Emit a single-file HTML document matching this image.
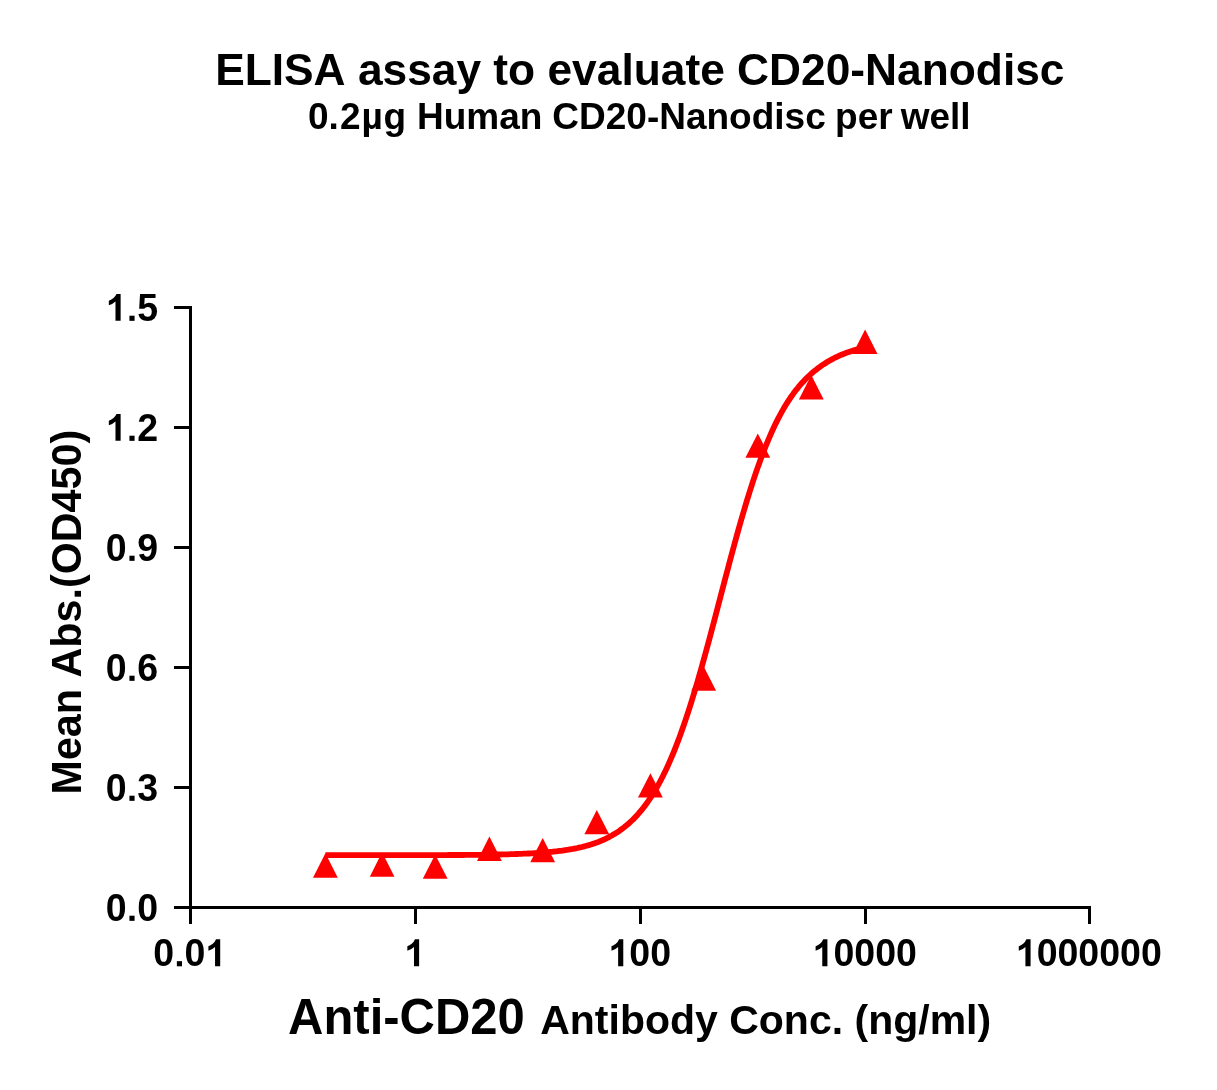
<!DOCTYPE html>
<html><head><meta charset="utf-8">
<style>
html,body{margin:0;padding:0;background:#fff;}
body{width:1217px;height:1090px;overflow:hidden;position:relative;}
svg{position:absolute;left:0;top:0;display:block;will-change:transform;}
text{font-kerning:none;font-family:"Liberation Sans",sans-serif;font-weight:bold;fill:#000;}
</style></head><body>
<svg width="1217" height="1090" viewBox="0 0 1217 1090">
<rect width="1217" height="1090" fill="#fff"/>
<!-- titles -->
<text id="t1" x="639.8" y="84.8" font-size="44.3" text-anchor="middle">ELISA assay to evaluate CD20-Nanodisc</text>
<text id="t2" y="129.3" font-size="37"><tspan x="307.9">0.</tspan><tspan x="340.1">2</tspan><tspan x="361.5">µ</tspan><tspan x="383.6">g</tspan><tspan x="417.0">Human</tspan><tspan x="552.3">CD20-Nanodisc</tspan><tspan x="835.1">per</tspan><tspan x="900.7">well</tspan></text>
<!-- axes -->
<g fill="#000" shape-rendering="crispEdges">
<rect x="189" y="306" width="3" height="618"/>
<rect x="174" y="906" width="917" height="3"/>
<rect x="174" y="306" width="16" height="3"/>
<rect x="174" y="426" width="16" height="3"/>
<rect x="174" y="546" width="16" height="3"/>
<rect x="174" y="666" width="16" height="3"/>
<rect x="174" y="786" width="16" height="3"/>
<rect x="414" y="906" width="3" height="18"/>
<rect x="639" y="906" width="3" height="18"/>
<rect x="864" y="906" width="3" height="18"/>
<rect x="1088" y="906" width="3" height="18"/>
</g>
<!-- y tick labels -->
<g fill="#000">
<path transform="translate(105.87,320.85) scale(0.018311,-0.018311)" d="M806 0H525V1059Q371 915 162 846V1101Q272 1137 401 1237.5T578 1472H806Z"/>
<path transform="translate(126.73,320.85) scale(0.018311,-0.018311)" d="M147 0H428V281H147Z"/>
<text transform="translate(137.14,320.85) scale(1,1.040)" font-size="37.50">5</text>
<path transform="translate(105.87,440.85) scale(0.018311,-0.018311)" d="M806 0H525V1059Q371 915 162 846V1101Q272 1137 401 1237.5T578 1472H806Z"/>
<path transform="translate(126.73,440.85) scale(0.018311,-0.018311)" d="M147 0H428V281H147Z"/>
<text transform="translate(137.14,440.85) scale(1,1.040)" font-size="37.50">2</text>
<text transform="translate(105.87,560.85) scale(1,1.040)" font-size="37.50">0</text>
<path transform="translate(126.73,560.85) scale(0.018311,-0.018311)" d="M147 0H428V281H147Z"/>
<text transform="translate(137.14,560.85) scale(1,1.040)" font-size="37.50">9</text>
<text transform="translate(105.87,680.85) scale(1,1.040)" font-size="37.50">0</text>
<path transform="translate(126.73,680.85) scale(0.018311,-0.018311)" d="M147 0H428V281H147Z"/>
<text transform="translate(137.14,680.85) scale(1,1.040)" font-size="37.50">6</text>
<text transform="translate(105.87,800.85) scale(1,1.040)" font-size="37.50">0</text>
<path transform="translate(126.73,800.85) scale(0.018311,-0.018311)" d="M147 0H428V281H147Z"/>
<text transform="translate(137.14,800.85) scale(1,1.040)" font-size="37.50">3</text>
<text transform="translate(105.87,920.85) scale(1,1.040)" font-size="37.50">0</text>
<path transform="translate(126.73,920.85) scale(0.018311,-0.018311)" d="M147 0H428V281H147Z"/>
<text transform="translate(137.14,920.85) scale(1,1.040)" font-size="37.50">0</text>
</g>
<!-- x tick labels -->
<g fill="#000">
<text transform="translate(153.31,966.30) scale(1,1.040)" font-size="37.50">0</text>
<path transform="translate(174.16,966.30) scale(0.018311,-0.018311)" d="M147 0H428V281H147Z"/>
<text transform="translate(184.58,966.30) scale(1,1.040)" font-size="37.50">0</text>
<path transform="translate(205.44,966.30) scale(0.018311,-0.018311)" d="M806 0H525V1059Q371 915 162 846V1101Q272 1137 401 1237.5T578 1472H806Z"/>
<path transform="translate(404.37,966.30) scale(0.018311,-0.018311)" d="M806 0H525V1059Q371 915 162 846V1101Q272 1137 401 1237.5T578 1472H806Z"/>
<path transform="translate(608.52,966.30) scale(0.018311,-0.018311)" d="M806 0H525V1059Q371 915 162 846V1101Q272 1137 401 1237.5T578 1472H806Z"/>
<text transform="translate(629.37,966.30) scale(1,1.040)" font-size="37.50">00</text>
<path transform="translate(812.66,966.30) scale(0.018311,-0.018311)" d="M806 0H525V1059Q371 915 162 846V1101Q272 1137 401 1237.5T578 1472H806Z"/>
<text transform="translate(833.52,966.30) scale(1,1.040)" font-size="37.50">0000</text>
<path transform="translate(1015.81,966.30) scale(0.018311,-0.018311)" d="M806 0H525V1059Q371 915 162 846V1101Q272 1137 401 1237.5T578 1472H806Z"/>
<text transform="translate(1036.66,966.30) scale(1,1.040)" font-size="37.50">000000</text>
</g>
<!-- axis titles -->
<text id="xa" transform="translate(288.0,1034.3) scale(1,1.035)" font-size="49">Anti-CD20</text>
<text id="xb" x="540.2" y="1034.3" font-size="41">Antibody Conc. (ng/ml)</text>
<text id="ya" transform="translate(81.4,794.5) rotate(-90) scale(1,1.025)" font-size="41.3">Mean Abs.(OD450)</text>
<!-- data -->
<path d="M325.4,855.2 L326.9,855.2 L328.4,855.2 L329.9,855.2 L331.4,855.2 L332.9,855.2 L334.4,855.2 L335.9,855.2 L337.4,855.2 L338.9,855.2 L340.4,855.2 L341.9,855.2 L343.4,855.2 L344.9,855.2 L346.4,855.2 L347.9,855.2 L349.4,855.2 L350.9,855.2 L352.4,855.2 L353.9,855.2 L355.4,855.2 L356.9,855.2 L358.4,855.2 L359.9,855.2 L361.4,855.2 L362.9,855.2 L364.4,855.2 L365.9,855.2 L367.4,855.2 L368.9,855.2 L370.4,855.2 L371.9,855.2 L373.4,855.2 L374.9,855.2 L376.4,855.2 L377.9,855.2 L379.4,855.2 L380.9,855.2 L382.4,855.2 L383.9,855.2 L385.4,855.2 L386.9,855.2 L388.4,855.2 L389.9,855.2 L391.4,855.2 L392.9,855.2 L394.4,855.2 L395.9,855.2 L397.4,855.2 L398.9,855.2 L400.4,855.2 L401.9,855.2 L403.4,855.2 L404.9,855.2 L406.4,855.2 L407.9,855.2 L409.4,855.2 L410.9,855.2 L412.4,855.1 L413.9,855.1 L415.4,855.1 L416.9,855.1 L418.4,855.1 L419.9,855.1 L421.4,855.1 L422.9,855.1 L424.4,855.1 L425.9,855.1 L427.4,855.1 L428.9,855.1 L430.4,855.1 L431.9,855.1 L433.4,855.1 L434.9,855.1 L436.4,855.1 L437.9,855.1 L439.4,855.1 L440.9,855.1 L442.4,855.1 L443.9,855.1 L445.4,855.1 L446.9,855.1 L448.4,855.0 L449.9,855.0 L451.4,855.0 L452.9,855.0 L454.4,855.0 L455.9,855.0 L457.4,855.0 L458.9,855.0 L460.4,855.0 L461.9,855.0 L463.4,855.0 L464.9,854.9 L466.4,854.9 L467.9,854.9 L469.4,854.9 L470.9,854.9 L472.4,854.9 L473.9,854.9 L475.4,854.9 L476.9,854.8 L478.4,854.8 L479.9,854.8 L481.4,854.8 L482.9,854.8 L484.4,854.7 L485.9,854.7 L487.4,854.7 L488.9,854.7 L490.4,854.7 L491.9,854.6 L493.4,854.6 L494.9,854.6 L496.4,854.5 L497.9,854.5 L499.4,854.5 L500.9,854.5 L502.4,854.4 L503.9,854.4 L505.4,854.3 L506.9,854.3 L508.4,854.3 L509.9,854.2 L511.4,854.2 L512.9,854.1 L514.4,854.1 L515.9,854.0 L517.4,854.0 L518.9,853.9 L520.4,853.9 L521.9,853.8 L523.4,853.7 L524.9,853.7 L526.4,853.6 L527.9,853.5 L529.4,853.5 L530.9,853.4 L532.4,853.3 L533.9,853.2 L535.4,853.1 L536.9,853.0 L538.4,852.9 L539.9,852.8 L541.4,852.7 L542.9,852.6 L544.4,852.5 L545.9,852.3 L547.4,852.2 L548.9,852.1 L550.4,851.9 L551.9,851.8 L553.4,851.6 L554.9,851.5 L556.4,851.3 L557.9,851.1 L559.4,850.9 L560.9,850.8 L562.4,850.6 L563.9,850.3 L565.4,850.1 L566.9,849.9 L568.4,849.7 L569.9,849.4 L571.4,849.1 L572.9,848.9 L574.4,848.6 L575.9,848.3 L577.4,848.0 L578.9,847.6 L580.4,847.3 L581.9,847.0 L583.4,846.6 L584.9,846.2 L586.4,845.8 L587.9,845.4 L589.4,844.9 L590.9,844.5 L592.4,844.0 L593.9,843.5 L595.4,843.0 L596.9,842.4 L598.4,841.9 L599.9,841.3 L601.4,840.6 L602.9,840.0 L604.4,839.3 L605.9,838.6 L607.4,837.9 L608.9,837.1 L610.4,836.3 L611.9,835.5 L613.4,834.6 L614.9,833.7 L616.4,832.8 L617.9,831.8 L619.4,830.8 L620.9,829.7 L622.4,828.6 L623.9,827.5 L625.4,826.3 L626.9,825.1 L628.4,823.8 L629.9,822.4 L631.4,821.0 L632.9,819.6 L634.4,818.1 L635.9,816.5 L637.4,814.9 L638.9,813.2 L640.4,811.4 L641.9,809.6 L643.4,807.7 L644.9,805.7 L646.4,803.7 L647.9,801.6 L649.4,799.4 L650.9,797.2 L652.4,794.8 L653.9,792.4 L655.4,789.9 L656.9,787.3 L658.4,784.6 L659.9,781.9 L661.4,779.0 L662.9,776.1 L664.4,773.0 L665.9,769.9 L667.4,766.7 L668.9,763.4 L670.4,759.9 L671.9,756.4 L673.4,752.8 L674.9,749.1 L676.4,745.3 L677.9,741.4 L679.4,737.4 L680.9,733.3 L682.4,729.1 L683.9,724.8 L685.4,720.4 L686.9,715.9 L688.4,711.3 L689.9,706.6 L691.4,701.9 L692.9,697.0 L694.4,692.1 L695.9,687.1 L697.4,682.0 L698.9,676.8 L700.4,671.6 L701.9,666.3 L703.4,660.9 L704.9,655.5 L706.4,650.0 L707.9,644.4 L709.4,638.9 L710.9,633.2 L712.4,627.6 L713.9,621.9 L715.4,616.2 L716.9,610.5 L718.4,604.7 L719.9,599.0 L721.4,593.3 L722.9,587.5 L724.4,581.8 L725.9,576.1 L727.4,570.4 L728.9,564.7 L730.4,559.1 L731.9,553.5 L733.4,548.0 L734.9,542.5 L736.4,537.0 L737.9,531.6 L739.4,526.3 L740.9,521.0 L742.4,515.8 L743.9,510.7 L745.4,505.7 L746.9,500.7 L748.4,495.8 L749.9,491.0 L751.4,486.3 L752.9,481.7 L754.4,477.2 L755.9,472.7 L757.4,468.4 L758.9,464.2 L760.4,460.0 L761.9,456.0 L763.4,452.0 L764.9,448.2 L766.4,444.5 L767.9,440.8 L769.4,437.3 L770.9,433.8 L772.4,430.5 L773.9,427.3 L775.4,424.1 L776.9,421.1 L778.4,418.1 L779.9,415.3 L781.4,412.5 L782.9,409.9 L784.4,407.3 L785.9,404.8 L787.4,402.4 L788.9,400.1 L790.4,397.8 L791.9,395.7 L793.4,393.6 L794.9,391.6 L796.4,389.6 L797.9,387.8 L799.4,385.9 L800.9,384.2 L802.4,382.5 L803.9,380.9 L805.4,379.3 L806.9,377.8 L808.4,376.4 L809.9,375.0 L811.4,373.6 L812.9,372.3 L814.4,371.1 L815.9,369.9 L817.4,368.7 L818.9,367.6 L820.4,366.5 L821.9,365.4 L823.4,364.4 L824.9,363.5 L826.4,362.5 L827.9,361.6 L829.4,360.7 L830.9,359.9 L832.4,359.1 L833.9,358.3 L835.4,357.5 L836.9,356.8 L838.4,356.1 L839.9,355.4 L841.4,354.8 L842.9,354.2 L844.4,353.6 L845.9,353.0 L847.4,352.4 L848.9,351.9 L850.4,351.4 L851.9,350.9 L853.4,350.4 L854.9,350.0 L856.4,349.6 L857.9,349.2 L859.4,348.8 L860.9,348.4 L862.4,348.1 L863.9,347.8" fill="none" stroke="#ff0000" stroke-width="5.8" stroke-linejoin="round"/>
<g fill="#ff0000">
<polygon points="313.0,877.7 337.8,877.7 325.4,853.3"/>
<polygon points="369.8,876.7 394.5,876.7 382.1,852.3"/>
<polygon points="422.8,878.8 447.6,878.8 435.2,854.4"/>
<polygon points="477.0,860.9 501.8,860.9 489.4,836.5"/>
<polygon points="530.3,862.3 555.1,862.3 542.7,837.9"/>
<polygon points="584.4,834.3 609.2,834.3 596.8,809.9"/>
<polygon points="638.0,797.6 662.8,797.6 650.4,773.2"/>
<polygon points="691.3,690.8 716.1,690.8 703.7,666.4"/>
<polygon points="745.4,457.8 770.2,457.8 757.8,433.4"/>
<polygon points="798.9,399.5 823.7,399.5 811.3,375.1"/>
<polygon points="852.7,354.0 877.5,354.0 865.1,329.6"/>
</g>
</svg>
</body></html>
